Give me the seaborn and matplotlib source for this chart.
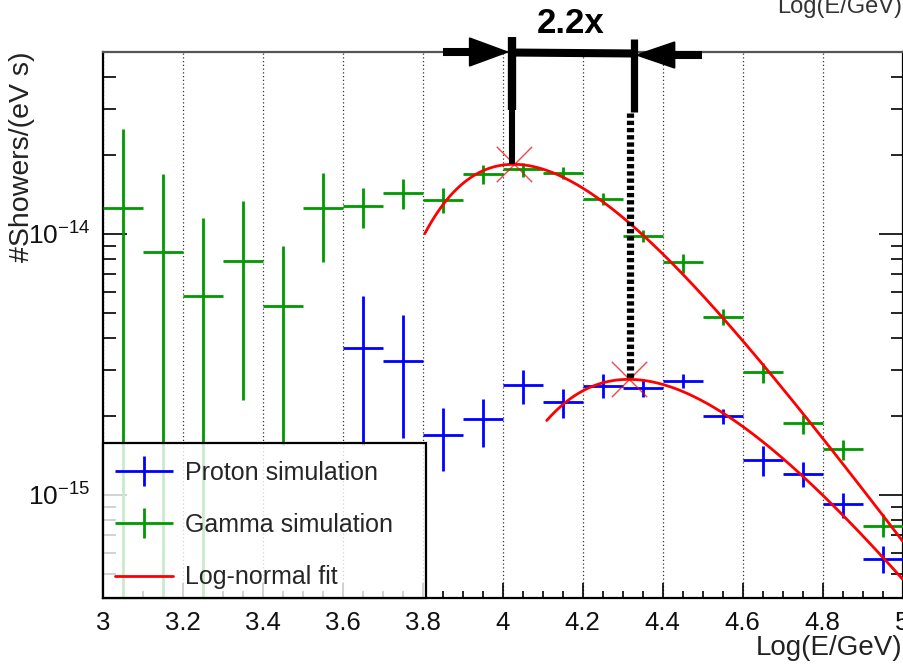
import numpy as np
import pandas as pd
import matplotlib
matplotlib.use("Agg")
import matplotlib.pyplot as plt
import matplotlib.ticker as mticker
from matplotlib.legend_handler import HandlerErrorbar
from matplotlib.lines import Line2D
from matplotlib.patches import Rectangle, Polygon
import seaborn as sns

# ---------------- data ----------------
half_bin = 0.05

gamma_x = [3.05, 3.15, 3.25, 3.35, 3.45, 3.55, 3.65, 3.75, 3.85, 3.95,
           4.05, 4.15, 4.25, 4.35, 4.45, 4.55, 4.65, 4.75, 4.85, 4.95]
gamma_y = [1.26e-14, 8.55e-15, 5.77e-15, 7.88e-15, 5.30e-15, 1.26e-14, 1.28e-14, 1.44e-14, 1.35e-14, 1.70e-14,
           1.77e-14, 1.72e-14, 1.36e-14, 9.86e-15, 7.80e-15, 4.80e-15, 2.97e-15, 1.89e-15, 1.50e-15, 7.60e-16]
gamma_lo = [1.0e-16, 1.0e-16, 1.0e-16, 2.31e-15, 1.56e-15, 7.80e-15, 1.05e-14, 1.25e-14, 1.20e-14, 1.56e-14,
            1.66e-14, 1.63e-14, 1.29e-14, 9.35e-15, 7.06e-15, 4.48e-15, 2.69e-15, 1.71e-15, 1.36e-15, 6.92e-16]
gamma_hi = [2.52e-14, 1.70e-14, 1.15e-14, 1.34e-14, 9.00e-15, 1.72e-14, 1.50e-14, 1.63e-14, 1.50e-14, 1.83e-14,
            1.87e-14, 1.81e-14, 1.43e-14, 1.035e-14, 8.38e-15, 5.14e-15, 3.20e-15, 2.03e-15, 1.63e-15, 8.43e-16]

proton_x = [3.65, 3.75, 3.85, 3.95, 4.05, 4.15, 4.25, 4.35, 4.45, 4.55, 4.65, 4.75, 4.85, 4.95]
proton_y = [3.67e-15, 3.26e-15, 1.70e-15, 1.95e-15, 2.64e-15, 2.28e-15, 2.62e-15, 2.58e-15, 2.74e-15, 2.00e-15,
            1.36e-15, 1.20e-15, 9.20e-16, 5.70e-16]
proton_lo = [1.56e-15, 1.65e-15, 1.24e-15, 1.53e-15, 2.24e-15, 1.97e-15, 2.36e-15, 2.38e-15, 2.56e-15, 1.87e-15,
             1.18e-15, 1.07e-15, 8.15e-16, 5.04e-16]
proton_hi = [5.77e-15, 4.90e-15, 2.16e-15, 2.34e-15, 3.01e-15, 2.55e-15, 2.90e-15, 2.77e-15, 2.92e-15, 2.13e-15,
             1.54e-15, 1.34e-15, 1.016e-15, 6.40e-16]

# log-normal fit parameters (peak position, peak height, offset, width factor, range)
gamma_fit_peak_x, gamma_fit_peak_log = 4.027, -13.733
gamma_fit_x0, gamma_fit_k, gamma_fit_range = 3.3, 2.0, (3.805, 5.0)
proton_fit_peak_x, proton_fit_peak_log = 4.315, -14.557
proton_fit_x0, proton_fit_k, proton_fit_range = 3.4, 2.45, (4.11, 5.0)

ratio_label = "2.2x"
x_ticks = [3.0, 3.2, 3.4, 3.6, 3.8, 4.0, 4.2, 4.4, 4.6, 4.8, 5.0]
x_ticklabels = ["3", "3.2", "3.4", "3.6", "3.8", "4", "4.2", "4.4", "4.6", "4.8", "5"]
labels = ["Proton simulation", "Gamma simulation", "Log-normal fit"]

GREEN = "#009900"
BLUE = "#0000ff"
RED = "#ff0000"

# ---------------- style ----------------
sns.set_theme(style="ticks")
plt.rcParams["font.family"] = ["Liberation Sans", "DejaVu Sans"]
plt.rcParams["mathtext.fontset"] = "custom"
plt.rcParams["mathtext.rm"] = "Liberation Sans"
plt.rcParams["mathtext.it"] = "Liberation Sans:italic"
plt.rcParams["mathtext.bf"] = "Liberation Sans:bold"

W, H = 904, 664
fig = plt.figure(figsize=(W / 100, H / 100), dpi=100)
ax_left, ax_bottom, ax_top_px, ax_right_px = 103, 66, 52, 902.5
ax = fig.add_axes([ax_left / W, ax_bottom / H, (ax_right_px - ax_left) / W, (H - ax_top_px - ax_bottom) / H])

ax.set_yscale("log")
ax.set_xlim(3.0, 5.0)
ax.set_ylim(4.03e-16, 4.98e-14)


def fit_curve(peak_x, peak_log, x0, k, xr):
    xs = np.linspace(xr[0], xr[1], 300)
    logy = peak_log - k * (np.log(xs - x0) - np.log(peak_x - x0)) ** 2
    return pd.DataFrame({"x": xs, "y": 10 ** logy})


# error bars
def draw_err(xv, yv, lo, hi, color, label):
    yv = np.array(yv); lo = np.array(lo); hi = np.array(hi)
    return ax.errorbar(xv, yv, xerr=half_bin, yerr=[yv - lo, hi - yv], fmt="none",
                       ecolor=color, elinewidth=2.0, capsize=0, label=label, zorder=3)

eb_p = draw_err(proton_x, proton_y, proton_lo, proton_hi, BLUE, labels[0])
eb_g = draw_err(gamma_x, gamma_y, gamma_lo, gamma_hi, GREEN, labels[1])

gfit = fit_curve(gamma_fit_peak_x, gamma_fit_peak_log, gamma_fit_x0, gamma_fit_k, gamma_fit_range)
pfit = fit_curve(proton_fit_peak_x, proton_fit_peak_log, proton_fit_x0, proton_fit_k, proton_fit_range)
sns.lineplot(data=gfit, x="x", y="y", ax=ax, color=RED, lw=2.0, estimator=None, sort=False, zorder=4)
sns.lineplot(data=pfit, x="x", y="y", ax=ax, color=RED, lw=2.0, estimator=None, sort=False, zorder=4)

peaks = pd.DataFrame({"x": [gamma_fit_peak_x, proton_fit_peak_x],
                      "y": [10 ** gamma_fit_peak_log, 10 ** proton_fit_peak_log]})
sns.scatterplot(data=peaks, x="x", y="y", ax=ax, marker="x", s=650, color=RED, alpha=0.75,
                linewidth=1.0, zorder=5, legend=False)

ax.set_xlabel("")
ax.set_ylabel("")

# ticks
ax.set_xticks(x_ticks)
ax.set_xticklabels(x_ticklabels)
ax.xaxis.set_minor_locator(mticker.MultipleLocator(0.05))
ax.tick_params(axis="x", which="major", direction="in", length=11, width=1.2, top=False,
               labelsize=18.5, pad=9, color="black", labelcolor="#111111")
ax.tick_params(axis="x", which="minor", direction="in", length=5, width=1.2, top=False, color="black")
ax.yaxis.set_major_locator(mticker.LogLocator(base=10, numticks=10))
ax.yaxis.set_minor_locator(mticker.LogLocator(base=10, subs=np.arange(2, 10), numticks=20))
ax.yaxis.set_major_formatter(mticker.LogFormatterMathtext())
ax.yaxis.set_minor_formatter(mticker.NullFormatter())
ax.tick_params(axis="y", which="major", direction="in", length=17, width=1.2, right=True,
               labelsize=19, pad=9, color="black", labelcolor="#111111")
ax.tick_params(axis="y", which="minor", direction="in", length=9, width=1.2, right=True, color="black")

ax.grid(axis="x", which="major", linestyle=(0, (1, 2)), color="#333333", lw=0.9)
ax.grid(axis="y", which="both", visible=False)
for s in ax.spines.values():
    s.set_color("black")
    s.set_linewidth(1.6)
ax.spines["top"].set_color("#555555")

# legend: frame drawn as a translucent rectangle behind the entries
frame_w = (426 - ax_left) / (ax_right_px - ax_left)
frame_h = (598 - 442.7) / (H - ax_top_px - ax_bottom)
ax.add_patch(Rectangle((0, 0), frame_w, frame_h, transform=ax.transAxes, facecolor=(1, 1, 1, 0.8),
                       edgecolor="black", lw=1.6, zorder=6, clip_on=False))
fit_handle = Line2D([], [], color=RED, lw=2.0)
leg = ax.legend([eb_p, eb_g, fit_handle], labels, loc="lower left",
                bbox_to_anchor=(3.5 / (ax_right_px - ax_left), 0.0),
                frameon=False, fontsize=18, handlelength=2.3, handletextpad=0.5,
                labelspacing=1.13, borderpad=0.35, borderaxespad=0.0,
                handler_map={type(eb_p): HandlerErrorbar(xerr_size=1.15, yerr_size=0.6)})
leg.set_zorder(7)

# ---------------- annotation (2.2x bracket) ----------------
plot_h = H - ax_top_px - ax_bottom
def yf(py):
    return (H - ax_bottom - py) / plot_h

def data_to_axfrac(x, y):
    return ax.transAxes.inverted().transform(ax.transData.transform((x, y)))[1]

tr = ax.get_xaxis_transform()
px_unit = 2.0 / (ax_right_px - ax_left)  # data x per pixel
g_peak_frac = data_to_axfrac(gamma_fit_peak_x, 10 ** gamma_fit_peak_log)
p_peak_frac = data_to_axfrac(proton_fit_peak_x, 10 ** proton_fit_peak_log)

gx = gamma_fit_peak_x - 2 * px_unit
px_solid = proton_fit_peak_x + 5 * px_unit
px_dot = proton_fit_peak_x + 1 * px_unit
kw = dict(transform=tr, clip_on=False, color="black", zorder=8, solid_capstyle="butt")
ax.plot([gx, gx], [yf(37), yf(110)], lw=6.0, **kw)
ax.plot([gx, gx], [yf(109), g_peak_frac], lw=4.4, **kw)
ax.plot([px_solid, px_solid], [yf(39), yf(112)], lw=5.2, **kw)
ax.plot([px_dot, px_dot], [yf(113), p_peak_frac], lw=5.2, linestyle=(0, (0.6, 0.4)),
        transform=tr, clip_on=False, color="black", zorder=8, dash_capstyle="butt")
ax.plot([gx - 3 * px_unit, px_solid + 3 * px_unit], [yf(52.5), yf(53.5)], lw=5.8, **kw)

# left arrow (pointing right)
ltip = gx - 4 * px_unit
lbase = ltip - 38 * px_unit
ax.plot([lbase - 27 * px_unit, lbase + 2 * px_unit], [yf(51.5), yf(51.5)], lw=5.8, **kw)
ax.add_patch(Polygon([[ltip, yf(52)], [lbase, yf(38)], [lbase, yf(66)]], closed=True,
                     transform=tr, clip_on=False, facecolor="black", edgecolor="black", zorder=8))
# right arrow (pointing left)
rtip = px_solid + 3 * px_unit
rbase = rtip + 38 * px_unit
ax.plot([rbase - 2 * px_unit, rbase + 27 * px_unit], [yf(55), yf(55)], lw=5.8, **kw)
ax.add_patch(Polygon([[rtip, yf(55)], [rbase, yf(42)], [rbase, yf(68)]], closed=True,
                     transform=tr, clip_on=False, facecolor="black", edgecolor="black", zorder=8))

ax.text((gamma_fit_peak_x + proton_fit_peak_x) / 2, yf(33), ratio_label, transform=tr,
        ha="center", va="baseline", fontsize=25, fontweight="bold", color="black", clip_on=False)

# axis titles
fig.text(902 / W, (H - 655) / H, "Log(E/GeV)", ha="right", va="baseline", fontsize=20, color="#222222")
fig.text(902 / W, (H - 13) / H, "Log(E/GeV)", ha="right", va="baseline", fontsize=17, color="#333333")
fig.text(9 / W, (H - 52) / H, "#Showers/(eV s)", rotation=90, ha="left", va="top",
         fontsize=20.5, color="#222222")

fig.savefig("out.png", dpi=100)
